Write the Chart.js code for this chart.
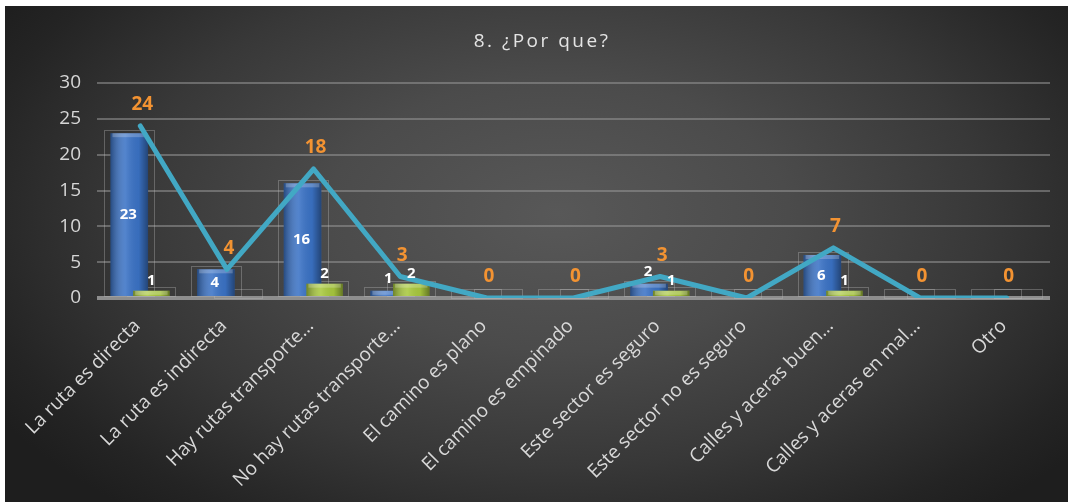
<!DOCTYPE html>
<html>
<head>
<meta charset="utf-8">
<script src="https://cdn.jsdelivr.net/npm/chart.js@4.4.1/dist/chart.umd.min.js"></script>
<style>
    html, body { margin: 0; padding: 0; background: #fff; }
    #wrap {
        position: absolute; left: 5px; top: 6px; width: 1063px; height: 496px;
        background: radial-gradient(ellipse 62% 78% at 52% 42%, #585858 0%, #4b4b4b 35%, #383838 65%, #242424 90%, #1e1e1e 100%);
    }
</style>
</head>
<body>
<div id="wrap"><canvas id="chart" width="1063" height="496"></canvas></div>
<script>
var categories = [
    'La ruta es directa',
    'La ruta es indirecta',
    'Hay rutas transporte…',
    'No hay rutas transporte…',
    'El camino es plano',
    'El camino es empinado',
    'Este sector es seguro',
    'Este sector no es seguro',
    'Calles y aceras buen…',
    'Calles y aceras en mal…',
    'Otro'
];
var blueValues = [23, 4, 16, 1, 0, 0, 2, 0, 6, 0, 0];
var greenValues = [1, 0, 2, 2, 0, 0, 1, 0, 1, 0, 0];
var totalValues = [24, 4, 18, 3, 0, 0, 3, 0, 7, 0, 0];
var yTicks = [0, 5, 10, 15, 20, 25, 30];

var labelFont = '"Open Sans", "DejaVu Sans", sans-serif';

// soft cylinder shading over the flat bars
function shadeBars(ctx, meta) {
    meta.data.forEach(function (el) {
        var h = el.base - el.y;
        if (h < 0.5) return;
        var left = el.x - el.width / 2;
        var g = ctx.createLinearGradient(left, 0, left + el.width, 0);
        g.addColorStop(0, 'rgba(0,0,0,0.35)');
        g.addColorStop(0.4, 'rgba(255,255,255,0.12)');
        g.addColorStop(0.75, 'rgba(0,0,0,0.05)');
        g.addColorStop(1, 'rgba(0,0,0,0.4)');
        ctx.save();
        ctx.fillStyle = g;
        ctx.fillRect(left, el.y, el.width, h);
        ctx.fillStyle = 'rgba(255,255,255,0.22)';
        ctx.fillRect(left + 2, el.y, el.width - 4, Math.min(4, h));
        ctx.restore();
    });
}

var barFrames = {
    id: 'barFrames',
    beforeDatasetsDraw: function (chart) {
        var ctx = chart.ctx;
        ctx.save();
        ctx.strokeStyle = 'rgba(190,190,190,0.35)';
        ctx.lineWidth = 1;
        [0, 1].forEach(function (i) {
            chart.getDatasetMeta(i).data.forEach(function (el) {
                var left = el.x - el.width / 2 - 6;
                var top = Math.min(el.y, el.base - 6) - 3;
                ctx.strokeRect(Math.round(left) + 0.5, Math.round(top) + 0.5, Math.round(el.width + 12), Math.round(el.base - top));
            });
        });
        ctx.restore();
    }
};

// green bars sit in front of the blue ones, line on top of both
var barOrder = {
    id: 'barOrder',
    beforeDatasetDraw: function (chart, args) {
        if (args.index === 1) return false;
    },
    afterDatasetDraw: function (chart, args) {
        if (args.index === 0) {
            shadeBars(chart.ctx, args.meta);
            var green = chart.getDatasetMeta(1);
            green.controller.draw();
            shadeBars(chart.ctx, green);
        }
    }
};

var valueLabels = {
    id: 'valueLabels',
    afterDatasetsDraw: function (chart) {
        var ctx = chart.ctx;
        ctx.save();
        ctx.textAlign = 'center';
        ctx.textBaseline = 'middle';

        ctx.fillStyle = '#ffffff';
        ctx.font = 'bold 15px ' + labelFont;
        chart.getDatasetMeta(0).data.forEach(function (el, i) {
            var v = blueValues[i];
            if (!v) return;
            var y = v >= 4 ? (el.y + el.base) / 2 : el.y - 12;
            ctx.fillText(String(v), el.x - 1, y);
        });
        chart.getDatasetMeta(1).data.forEach(function (el, i) {
            var v = greenValues[i];
            if (!v) return;
            ctx.fillText(String(v), el.x, el.y - 10);
        });

        ctx.fillStyle = '#f39332';
        ctx.font = 'bold 19px ' + labelFont;
        chart.getDatasetMeta(2).data.forEach(function (el, i) {
            ctx.fillText(String(totalValues[i]), el.x + 2, el.y - 21);
        });
        ctx.restore();
    }
};

// category labels at 45 degrees, drawn at the x scale's tick positions
var categoryLabels = {
    id: 'categoryLabels',
    afterDraw: function (chart) {
        var ctx = chart.ctx;
        var xs = chart.scales.x;
        ctx.save();
        ctx.fillStyle = '#d8d8d8';
        ctx.font = '19px ' + labelFont;
        ctx.textAlign = 'right';
        ctx.textBaseline = 'middle';
        categories.forEach(function (c, i) {
            ctx.save();
            ctx.translate(xs.getPixelForTick(i) - 3, chart.chartArea.bottom + 25);
            ctx.rotate(-Math.PI / 4);
            ctx.fillText(c, 0, 0);
            ctx.restore();
        });
        ctx.restore();
    }
};

var titleText = {
    id: 'titleText',
    beforeDraw: function (chart) {
        var ctx = chart.ctx;
        ctx.save();
        ctx.fillStyle = '#e4e4e4';
        ctx.font = '19px ' + labelFont;
        ctx.letterSpacing = '2.5px';
        ctx.textAlign = 'center';
        ctx.textBaseline = 'middle';
        ctx.fillText('8. ¿Por que?', 537, 36);
        ctx.restore();
    }
};

new Chart(document.getElementById('chart').getContext('2d'), {
    data: {
        labels: categories,
        datasets: [
            {
                type: 'bar',
                label: 'A',
                data: blueValues,
                backgroundColor: '#3b73c6',
                order: 1,
                categoryPercentage: 0.51,
                barPercentage: 1.7
            },
            {
                type: 'bar',
                label: 'B',
                data: greenValues,
                backgroundColor: '#a9c93e',
                order: 2,
                categoryPercentage: 0.51,
                barPercentage: 1.65
            },
            {
                type: 'line',
                label: 'Total',
                data: totalValues,
                borderColor: '#42a8c4',
                borderWidth: 5,
                pointRadius: 0,
                tension: 0,
                borderJoinStyle: 'round',
                borderCapStyle: 'round',
                order: 0
            }
        ]
    },
    options: {
        responsive: false,
        animation: false,
        layout: { padding: { top: 77, right: 18, left: 0, bottom: 0 } },
        plugins: {
            legend: { display: false },
            title: { display: false },
            tooltip: { enabled: false }
        },
        scales: {
            x: {
                offset: true,
                grid: { display: false },
                border: { display: false },
                ticks: { display: false },
                afterFit: function (scale) { scale.height = 204; }
            },
            y: {
                min: 0,
                max: 30,
                border: { display: false },
                grid: {
                    drawTicks: false,
                    color: function (c) { return c.tick.value === 0 ? '#8e8e8e' : 'rgba(150,150,150,0.55)'; },
                    lineWidth: function (c) { return c.tick.value === 0 ? 4 : 2; }
                },
                ticks: {
                    color: '#d6d6d6',
                    font: { family: labelFont, size: 19 },
                    padding: 16
                },
                afterBuildTicks: function (scale) {
                    scale.ticks = yTicks.map(function (v) { return { value: v }; });
                },
                afterFit: function (scale) { scale.width = 92; }
            }
        }
    },
    plugins: [titleText, barFrames, barOrder, valueLabels, categoryLabels]
});
</script>
</body>
</html>
